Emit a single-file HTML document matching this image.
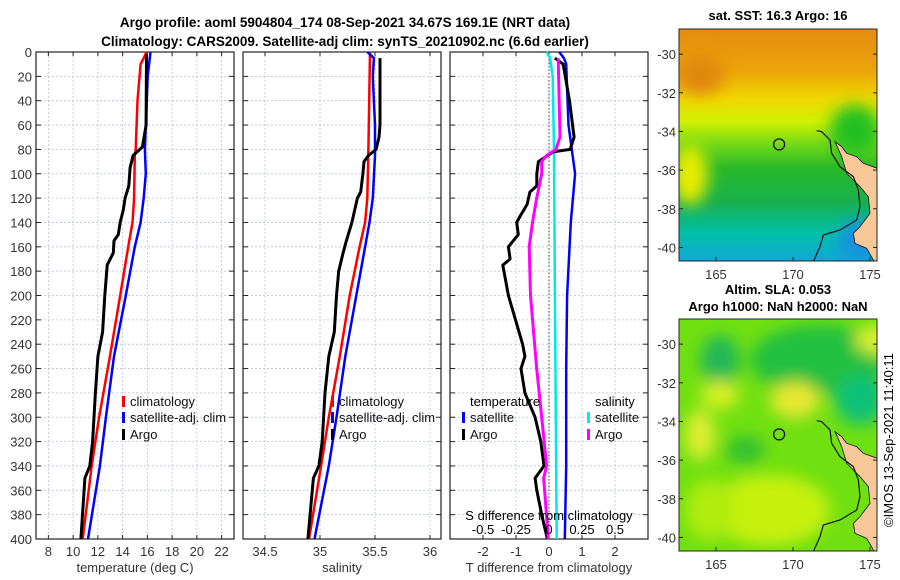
<!DOCTYPE html>
<html><head><meta charset="utf-8"><style>
html,body{margin:0;padding:0;background:#fff;}
svg{display:block;font-family:"Liberation Sans","DejaVu Sans",sans-serif;}
</style></head><body>
<svg id="fig" width="900" height="580" viewBox="0 0 900 580" xmlns="http://www.w3.org/2000/svg">
<defs>
<linearGradient id="sstg" x1="0" y1="0" x2="0" y2="1">
<stop offset="0" stop-color="#e48c10"/><stop offset="0.18" stop-color="#eca408"/><stop offset="0.3" stop-color="#f0d800"/><stop offset="0.4" stop-color="#d0f000"/><stop offset="0.5" stop-color="#70d818"/><stop offset="0.6" stop-color="#28b828"/><stop offset="0.75" stop-color="#18b050"/><stop offset="0.88" stop-color="#00c0a8"/><stop offset="1" stop-color="#10a8d8"/>
</linearGradient>
<filter id="blur" x="-50%" y="-50%" width="200%" height="200%"><feGaussianBlur stdDeviation="8"/></filter>
<clipPath id="clip1"><rect x="679" y="29" width="198" height="232"/></clipPath>
<clipPath id="clip2"><rect x="679" y="319" width="198" height="232"/></clipPath>
</defs>
<text x="345" y="27" text-anchor="middle" font-size="13.5" font-weight="bold">Argo profile: aoml 5904804_174 08-Sep-2021 34.67S 169.1E (NRT data)</text>
<text x="345" y="46" text-anchor="middle" font-size="13.5" font-weight="bold">Climatology: CARS2009. Satellite-adj clim: synTS_20210902.nc (6.6d earlier)</text>
<g id="plots"></g>
<g id="maps"></g>
<text transform="translate(893,440) rotate(-90)" text-anchor="middle" font-size="13">©IMOS 13-Sep-2021 11:40:11</text>
</svg>
<script>
const NS="http://www.w3.org/2000/svg";
const depthTicks=[0,20,40,60,80,100,120,140,160,180,200,220,240,260,280,300,320,340,360,380,400];
// Temperature panel
const tDepth=[2,60,78,85,95,110,120,130,140,150,155,165,175,200,230,250,280,320,340,350,400];
const tArgo=[15.93,15.9,15.6,14.85,14.6,14.5,14.2,14.05,13.8,13.65,13.3,13.25,12.75,12.56,12.38,12.0,11.8,11.57,11.35,10.95,10.63];
const cDepth=[0,5,10,40,80,85,120,140,160,200,250,300,340,400];
const tClim=[15.93,15.7,15.45,15.2,15.06,14.98,14.93,14.8,14.45,13.8,12.97,12.1,11.5,10.77];
const sDepthSat=[0,20,80,100,120,140,160,200,250,300,340,360,400];
const tSat=[16.25,16.03,15.8,15.87,15.7,15.45,14.98,14.26,13.3,12.65,12.16,11.84,11.2];
const tTicks=[8,10,12,14,16,18,20,22];
// Salinity panel
const saDepth=[5,60,70,80,85,90,100,115,120,140,155,165,180,200,230,250,280,320,340,350,400];
const sArgo=[35.545,35.545,35.536,35.51,35.44,35.4,35.39,35.37,35.34,35.29,35.24,35.21,35.17,35.15,35.13,35.08,35.045,35.02,34.99,34.94,34.89];
const scDepth=[0,80,120,140,160,200,250,300,340,400];
const sClim=[35.455,35.44,35.43,35.41,35.36,35.27,35.18,35.08,35.01,34.9];
const ssDepth=[0,5,20,60,85,120,140,160,200,250,300,340,400];
const sSat=[35.43,35.49,35.48,35.5,35.5,35.48,35.45,35.41,35.33,35.23,35.15,35.08,34.95];
const sTicks=[34.5,35,35.5,36];
// Difference panel
const dDepth=[5,10,40,70,80,82,90,100,110,115,125,135,140,150,160,170,175,200,240,250,260,280,300,320,340,350,360,380,400];
const dTArgo=[0.18,0.43,0.62,0.76,0.64,0.13,-0.32,-0.37,-0.37,-0.58,-0.66,-0.88,-0.98,-0.93,-1.23,-1.18,-1.4,-1.23,-0.8,-0.73,-0.85,-0.73,-0.42,-0.25,-0.15,-0.42,-0.37,-0.22,-0.05];
const dsDepth=[0,5,10,60,80,100,140,200,260,300,340,400];
const dTSat=[0.31,0.45,0.52,0.59,0.69,0.79,0.66,0.55,0.52,0.52,0.52,0.48];
const csDepth=[0,5,20,80,200,400];
const dSSat=[-0.018,0.008,0.028,0.038,0.045,0.058];
const maDepth=[5,70,80,85,90,100,120,140,160,200,260,300,340,350,400];
const dSArgo=[0.07,0.083,0.053,-0.018,-0.055,-0.055,-0.093,-0.125,-0.15,-0.14,-0.093,-0.055,-0.018,-0.04,-0.005];
const dTicks=[-2,-1,0,1,2];
const dSTicks=[-0.5,-0.25,0,0.25,0.5];

const top0=52,bot0=539;
const yD=d=>top0+(d/400)*(bot0-top0);
function el(tag,attrs,parent,txt){const e=document.createElementNS(NS,tag);for(const k in attrs)e.setAttribute(k,attrs[k]);if(txt!==undefined)e.textContent=txt;parent.appendChild(e);return e;}
const P=document.getElementById('plots');

function panel(name,x0,x1,vmin,vmax,ticks,fmt,ylabels,xlabel){
  const g=el('g',{},P);
  
  
  const xs=v=>x0+(v-vmin)/(vmax-vmin)*(x1-x0);
  ticks.forEach(t=>{el('line',{x1:xs(t),x2:xs(t),y1:top0,y2:bot0,stroke:'#b8c0e0','stroke-width':0.8,'stroke-dasharray':'2,2'},g);
    el('line',{x1:xs(t),x2:xs(t),y1:bot0,y2:bot0-4,stroke:'#222'},g);el('line',{x1:xs(t),x2:xs(t),y1:top0,y2:top0+4,stroke:'#222'},g);
    const lt=el('text',{x:xs(t),y:556,'text-anchor':'middle','font-size':13,fill:'#333'},g,fmt(t));
    
    });
  depthTicks.forEach(d=>{el('line',{x1:x0,x2:x1,y1:yD(d),y2:yD(d),stroke:'#b8c0e0','stroke-width':0.8,'stroke-dasharray':'2,2'},g);
    el('line',{x1:x0,x2:x0+5,y1:yD(d),y2:yD(d),stroke:'#222'},g);el('line',{x1:x1-5,x2:x1,y1:yD(d),y2:yD(d),stroke:'#222'},g);
    if(ylabels){const yt=el('text',{x:x0-4,y:yD(d)+5,'text-anchor':'end','font-size':13,fill:'#333'},g,String(d));
      
      }});
  el('rect',{x:x0,y:top0,width:x1-x0,height:bot0-top0,fill:'none',stroke:'#222','stroke-width':1.2},g);
  const xl=el('text',{x:(x0+x1)/2,y:572,'text-anchor':'middle','font-size':13,fill:'#333'},g,xlabel);
  
  
  return {g,xs};
}
function line(g,xs,vals,depths,color,w,name){
  const pts=vals.map((v,i)=>xs(v).toFixed(1)+','+yD(depths[i]).toFixed(1)).join(' ');
  const p=el('polyline',{points:pts,fill:'none',stroke:color,'stroke-width':w,'stroke-linejoin':'round'},g);
  
  
}
function legend(g,x,y,color,label,name){
  el('rect',{x:x,y:y-10,width:3,height:11,fill:color},g);
  const t=el('text',{x:x+8,y:y,'font-size':13,fill:'#111'},g,label);
  
  
}
// Panel 1
let p1=panel('temperature-panel',36,234,7,23,tTicks,String,true,'temperature (deg C)');
line(p1.g,p1.xs,tClim,cDepth,'#ff0000',2.5,'temp-climatology-line');
line(p1.g,p1.xs,tSat,sDepthSat,'#0000ff',2.5,'temp-satellite-line');
line(p1.g,p1.xs,tArgo,tDepth,'#000',3,'temp-argo-line');
legend(p1.g,122,406,'#f00','climatology','legend-climatology');
legend(p1.g,122,422,'#00f','satellite-adj. clim','legend-satellite');
legend(p1.g,122,439,'#000','Argo','legend-argo');
// Panel 2
let p2=panel('salinity-panel',243,441,34.3,36.1,sTicks,String,false,'salinity');
line(p2.g,p2.xs,sClim,scDepth,'#ff0000',2.5,'sal-climatology-line');
line(p2.g,p2.xs,sSat,ssDepth,'#0000ff',2.5,'sal-satellite-line');
line(p2.g,p2.xs,sArgo,saDepth,'#000',3,'sal-argo-line');
legend(p2.g,331,406,'#f00','climatology','legend-climatology-2');
legend(p2.g,331,422,'#00f','satellite-adj. clim','legend-satellite-2');
legend(p2.g,331,439,'#000','Argo','legend-argo-2');
// Panel 3
let p3=panel('difference-panel',450,648,-3,3,dTicks,String,false,'T difference from climatology');
el('line',{x1:p3.xs(0),x2:p3.xs(0),y1:top0,y2:bot0,stroke:'#444','stroke-dasharray':'1.5,2'},p3.g);
const xsS=s=>p3.xs(s*4);
line(p3.g,xsS,dSSat,csDepth,'#00e8e8',2.5,'sal-diff-satellite-line');
line(p3.g,p3.xs,dTSat,dsDepth,'#0000ff',2.5,'temp-diff-satellite-line');
line(p3.g,p3.xs,dTArgo,dDepth,'#000',3,'temp-diff-argo-line');
line(p3.g,xsS,dSArgo,maDepth,'#ff00ff',3,'sal-diff-argo-line');
let tt=el('text',{x:470,y:406,'font-size':13},p3.g,'temperature');


let st=el('text',{x:595,y:406,'font-size':13},p3.g,'salinity');


legend(p3.g,462,422,'#00f','satellite','legend-temp-satellite');
legend(p3.g,462,439,'#000','Argo','legend-temp-argo');
legend(p3.g,587,422,'#0ee','satellite','legend-sal-satellite');
legend(p3.g,587,439,'#f0f','Argo','legend-sal-argo');
let sdt=el('text',{x:549,y:520,'text-anchor':'middle','font-size':13},p3.g,'S difference from climatology');


dSTicks.forEach(s=>{const t=el('text',{x:xsS(s),y:534,'text-anchor':'middle','font-size':13},p3.g,String(s));
  
  });

// Maps
const M=document.getElementById('maps');
const lonTicks=[165,170,175], latTicks=[-30,-32,-34,-36,-38,-40];
function mapFrame(name,top,title1,title2,bg){
  const g=el('g',{},M);
  
  
  const lx=lon=>679+(lon-162.6)*15.4, ly=lat=>top+(-28.7-lat)*19.33;
  const inner=el('g',{'clip-path':top<100?'url(#clip1)':'url(#clip2)'},g);
  bg(inner,lx,ly);
  const off=top-29;
  const land=[[525,425],[545,440],[560,460],[590,470],[610,490],[652,505],[652,790],[640,780],[620,745],[585,730],[580,700],[600,680],[630,640],[625,590],[600,560],[560,520],[545,470]];
  el('polygon',{points:land.map(p=>(660+p[0]/3)+','+(p[1]/3+off)).join(' '),fill:'#f8c898',stroke:'#111','stroke-width':0.8},inner);
  const cont=[[470,392],[485,395],[510,420],[515,460],[540,500],[580,530],[595,570],[600,620],[590,660],[540,690],[490,705],[480,740],[460,785]];
  el('polyline',{points:cont.map(p=>(660+p[0]/3)+','+(p[1]/3+off)).join(' '),fill:'none',stroke:'#111','stroke-width':1.2},inner);
  const c=el('circle',{cx:lx(169.1),cy:ly(-34.67),r:5.5,fill:'none',stroke:'#111','stroke-width':1.3},g);
  
  
  el('rect',{x:679,y:top,width:198,height:232,fill:'none',stroke:'#222'},g);
  lonTicks.forEach(l=>{el('line',{x1:lx(l),x2:lx(l),y1:top+232,y2:top+228,stroke:'#222'},g);
    const t=el('text',{x:lx(l),y:top+250,'text-anchor':'middle','font-size':13,fill:'#333'},g,String(l));
    
    });
  latTicks.forEach(l=>{el('line',{x1:877,x2:873,y1:ly(l),y2:ly(l),stroke:'#222'},g);el('line',{x1:679,x2:683,y1:ly(l),y2:ly(l),stroke:'#222'},g);
    const t=el('text',{x:676,y:ly(l)+5,'text-anchor':'end','font-size':13,fill:'#333'},g,String(l));
    
    });
  const t1=el('text',{x:778,y:top-(title2?25:9),'text-anchor':'middle','font-size':13,'font-weight':'bold'},g,title1);
  
  
  if(title2){const t2=el('text',{x:778,y:top-8,'text-anchor':'middle','font-size':13,'font-weight':'bold'},g,title2);
    
    }
}
mapFrame('sst-map',29,'sat. SST: 16.3 Argo: 16',null,(g,lx,ly)=>{
  el('rect',{x:679,y:29,width:198,height:232,fill:'url(#sstg)'},g);
  const b=el('g',{filter:'url(#blur)'},g);
  el('ellipse',{cx:690,cy:175,rx:18,ry:30,fill:'#e8ec00'},b);
  el('ellipse',{cx:855,cy:130,rx:25,ry:25,fill:'#20c020'},b);
  el('ellipse',{cx:700,cy:75,rx:25,ry:20,fill:'#e08810'},b);
  el('ellipse',{cx:860,cy:240,rx:22,ry:20,fill:'#1890e0'},b);
});
mapFrame('sla-map',319,'Altim. SLA: 0.053','Argo h1000: NaN h2000: NaN',(g,lx,ly)=>{
  el('rect',{x:679,y:319,width:198,height:232,fill:'#70e010'},g);
  const b=el('g',{filter:'url(#blur)'},g);
  el('ellipse',{cx:820,cy:360,rx:70,ry:35,fill:'#20c040'},b);
  el('ellipse',{cx:720,cy:360,rx:20,ry:25,fill:'#20b858'},b);
  el('ellipse',{cx:860,cy:400,rx:25,ry:25,fill:'#10c078'},b);
  el('ellipse',{cx:795,cy:400,rx:25,ry:18,fill:'#e8e830'},b);
  el('ellipse',{cx:700,cy:435,rx:15,ry:25,fill:'#e0ee30'},b);
  el('ellipse',{cx:720,cy:395,rx:20,ry:14,fill:'#d8f020'},b);
  el('ellipse',{cx:745,cy:450,rx:20,ry:14,fill:'#30c030'},b);
  el('ellipse',{cx:770,cy:510,rx:60,ry:35,fill:'#c8f010'},b);
  el('ellipse',{cx:710,cy:510,rx:25,ry:30,fill:'#b0ec10'},b);
  el('ellipse',{cx:880,cy:340,rx:25,ry:15,fill:'#d8f030'},b);
});
</script>
</body></html>
